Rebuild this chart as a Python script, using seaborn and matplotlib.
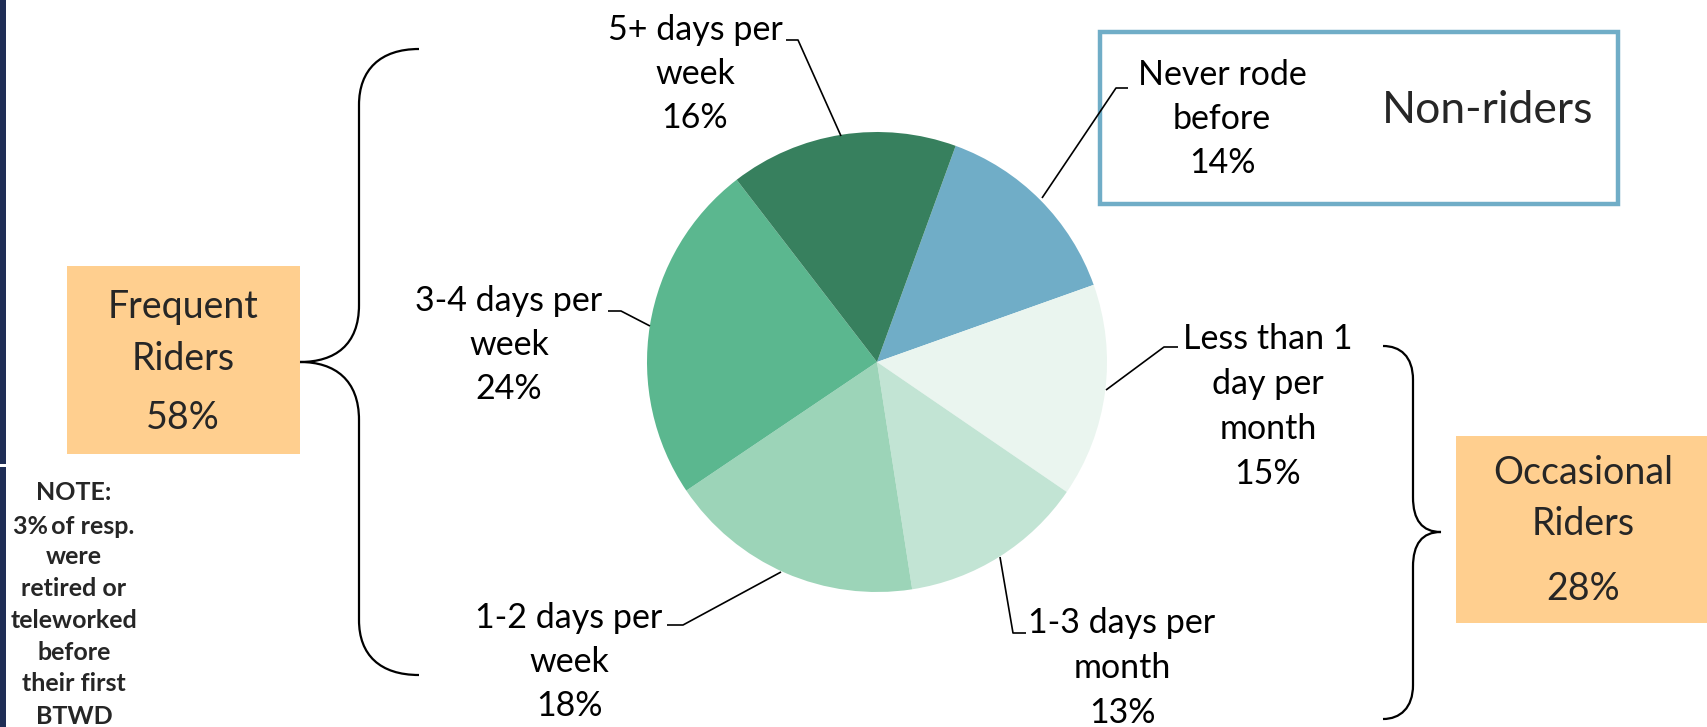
import matplotlib
matplotlib.use("Agg")
import matplotlib.pyplot as plt
import seaborn as sns
from matplotlib.path import Path
from matplotlib.patches import PathPatch, Rectangle

# ---------------- data ----------------
categories = ["Never rode\nbefore", "Less than 1\nday per\nmonth", "1-3 days per\nmonth",
              "1-2 days per\nweek", "3-4 days per\nweek", "5+ days per\nweek"]
shares = [14, 15, 13, 18, 24, 16]
slice_colors = ["#70ADC7", "#EAF5EF", "#C2E4D4", "#9CD4B8", "#5BB78F", "#37805E"]
group_names = ["Frequent\nRiders", "Occasional\nRiders"]
group_shares = [58, 28]
nonrider_title = "Non-riders"
note_lines = ["NOTE:", "3%\u2009of resp.", "were", "retired or", "teleworked",
              "before", "their first", "BTWD"]

# ---------------- layout ----------------
W, H = 1708, 727
sns.set_theme(style="white")
plt.rcParams['font.family'] = ['Lato', 'DejaVu Sans']

fig = plt.figure(figsize=(W / 100, H / 100), dpi=100)
ax = fig.add_axes([0, 0, 1, 1])


def Y(y):
    return H - y


wedges, _ = ax.pie(shares, colors=slice_colors, startangle=70, counterclock=False,
                   center=(877, Y(362)), radius=230, wedgeprops=dict(linewidth=0))
ax.set_xlim(0, W)
ax.set_ylim(0, H)
ax.set_aspect('equal')
ax.axis('off')

# label positions (x center, first-line y, line step) and leader lines (pixel coords)
label_pos = [(1222, 75, 44), (1268, 339, 45), (1122, 623, 45),
             (569, 618, 44), (509, 301, 44), (695, 30, 44)]
leaders = [[(1042, 198), (1116, 88), (1128, 88)],
           [(1106, 390), (1164, 347), (1178, 347)],
           [(1000, 557), (1013, 633), (1026, 633)],
           [(781, 572), (683, 625), (667, 625)],
           [(650, 326), (621, 311), (608, 311)],
           [(841, 136), (798, 40), (786, 40)]]
label_fs = 24.5

for cat, val, (lx, ly, step), pts in zip(categories, shares, label_pos, leaders):
    lines = cat.split("\n") + [f"{val}%"]
    for i, t in enumerate(lines):
        ax.text(lx, Y(ly + i * step), t, ha='center', va='center',
                fontsize=label_fs, color='black')
    ax.plot([p[0] for p in pts], [Y(p[1]) for p in pts], color='black', lw=1.2,
            solid_capstyle='butt')

# Non-riders box
ax.add_patch(Rectangle((1100, Y(204)), 518, 172, facecolor='none',
                       edgecolor='#70ADC7', lw=3.2))
ax.text(1488, Y(110), nonrider_title, ha='center', va='center', fontsize=32)

# Group boxes
box_specs = [(67, 266, 233, 188, 183, [307, 359, 418]),
             (1456, 436, 260, 187, 1583, [473, 524, 589])]
for name, val, (bx, by, bw, bh, tx, tys) in zip(group_names, group_shares, box_specs):
    ax.add_patch(Rectangle((bx, Y(by + bh)), bw, bh, facecolor='#FFCF8F',
                           edgecolor='none'))
    lines = name.split("\n") + [f"{val}%"]
    for t, ty in zip(lines, tys):
        ax.text(tx, Y(ty), t, ha='center', va='center', fontsize=27)


# Braces
def brace(points_codes, **kw):
    verts = [(x, Y(y)) for x, y in points_codes[0]]
    ax.add_patch(PathPatch(Path(verts, points_codes[1]), facecolor='none', **kw))


C4, L = Path.CURVE4, Path.LINETO
left_verts = [(419, 49), (380, 49), (359, 70), (359, 105),
              (359, 305),
              (359, 345), (335, 362), (300, 362),
              (335, 362), (359, 380), (359, 420),
              (359, 620),
              (359, 655), (380, 675), (419, 675)]
codes = [Path.MOVETO, C4, C4, C4, L, C4, C4, C4, C4, C4, C4, L, C4, C4, C4]
brace((left_verts, codes), edgecolor='black', lw=1.6)

right_verts = [(1383, 346), (1400, 346), (1413, 356), (1413, 380),
               (1413, 497),
               (1413, 520), (1422, 532), (1441, 532),
               (1422, 532), (1413, 544), (1413, 567),
               (1413, 685),
               (1413, 708), (1400, 719), (1383, 719)]
brace((right_verts, codes), edgecolor='black', lw=1.6)

# Note text
note_y = [493, 526, 557, 588, 620, 652, 684, 717]
for t, ny in zip(note_lines, note_y):
    ax.text(74, Y(ny), t, ha='center', va='center', fontsize=18, fontweight='bold')

# navy strip on the left edge
ax.add_patch(Rectangle((0, Y(464)), 6, 464, facecolor='#1F2E56', edgecolor='none'))
ax.add_patch(Rectangle((0, 0), 6, H - 467, facecolor='#1F2E56', edgecolor='none'))

fig.savefig("out.png", dpi=100)
